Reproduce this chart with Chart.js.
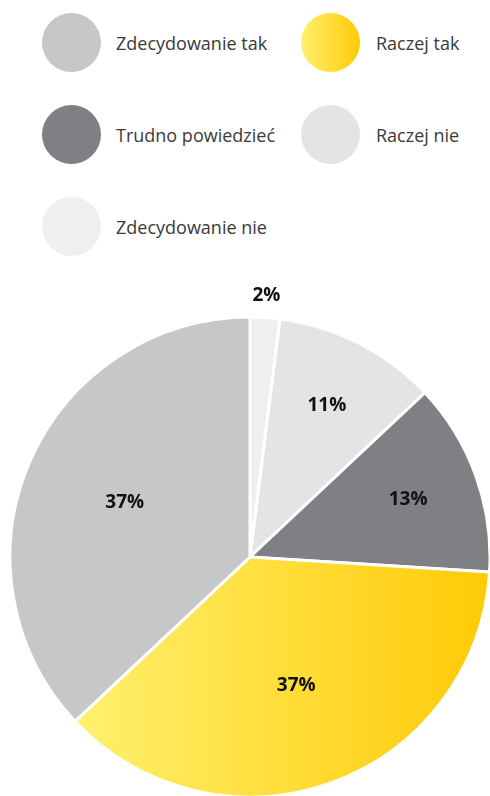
<!DOCTYPE html>
<html lang="pl">
<head>
<meta charset="UTF-8">
<title>Struktura odpowiedzi</title>
<script src="https://cdn.jsdelivr.net/npm/chart.js"></script>
<style>
  body { margin: 0; background: #fff; font-family: "Open Sans", sans-serif; }
  #wrap { position: relative; width: 490px; height: 796px; overflow: hidden; }
  .item { position: absolute; display: flex; align-items: center; }
  .dot { width: 59px; height: 59px; border-radius: 50%; flex: none; }
  .txt { margin-left: 15px; font-size: 18px; color: #3a3a3a; white-space: nowrap; }
  #pie { position: absolute; left: 0; top: 270px; }
</style>
</head>
<body>
<div id="wrap">
  <div id="legend"></div>
  <canvas id="pie" width="490" height="526"></canvas>
</div>

<script>
// kolejność zgodnie z ruchem wskazówek zegara, od godziny 12
var labels = ['Zdecydowanie nie', 'Raczej nie', 'Trudno powiedzieć', 'Raczej tak', 'Zdecydowanie tak'];
var values = [2, 11, 13, 37, 37];
var colors = ['#eeefef', '#e3e4e6', '#7f8084', 'gradient', '#c6c7c9'];
// kolejność pozycji w legendzie (indeksy w labels)
var legendOrder = [4, 3, 2, 1, 0];

var yellowFrom = '#fff170';
var yellowTo = '#ffca05';
var pieRadius = 240;

// legenda w dwóch kolumnach
var legend = document.getElementById('legend');
legendOrder.forEach(function (idx, i) {
    var col = i % 2, row = Math.floor(i / 2);
    var el = document.createElement('div');
    el.className = 'item';
    el.style.left = (col ? 301 : 42) + 'px';
    el.style.top = (13 + row * 92) + 'px';
    var dot = document.createElement('div');
    dot.className = 'dot';
    dot.style.background = colors[idx] === 'gradient'
        ? 'linear-gradient(to right, ' + yellowFrom + ', ' + yellowTo + ')'
        : colors[idx];
    var txt = document.createElement('div');
    txt.className = 'txt';
    txt.textContent = labels[idx];
    if (col) txt.style.marginLeft = '16px';
    el.appendChild(dot);
    el.appendChild(txt);
    legend.appendChild(el);
});

// żółty wycinek z poziomym gradientem
function sliceColor(ctx) {
    var c = colors[ctx.dataIndex];
    if (c !== 'gradient') return c;
    var area = ctx.chart.chartArea;
    if (!area) return yellowTo;
    var cx = (area.left + area.right) / 2;
    var g = ctx.chart.ctx.createLinearGradient(cx - pieRadius * 0.75, 0, cx + pieRadius, 0);
    g.addColorStop(0, yellowFrom);
    g.addColorStop(1, yellowTo);
    return g;
}

// etykiety procentowe w okolicy środka ciężkości wycinka
var percentLabels = {
    id: 'percentLabels',
    afterDatasetsDraw: function (chart) {
        var ctx = chart.ctx;
        var meta = chart.getDatasetMeta(0);
        ctx.save();
        ctx.font = 'bold 19px "Open Sans", sans-serif';
        ctx.fillStyle = '#111';
        ctx.textAlign = 'center';
        ctx.textBaseline = 'middle';
        meta.data.forEach(function (arc, i) {
            var p = arc.getProps(['x', 'y', 'startAngle', 'endAngle', 'outerRadius'], true);
            var a = p.endAngle - p.startAngle;
            var mid = (p.startAngle + p.endAngle) / 2;
            var d = values[i] < 5
                ? p.outerRadius * 1.09
                : p.outerRadius * 1.08 * 4 * Math.sin(a / 2) / (3 * a);
            ctx.fillText(values[i] + '%', p.x + Math.cos(mid) * d, p.y + Math.sin(mid) * d);
        });
        ctx.restore();
    }
};

new Chart(document.getElementById('pie'), {
    type: 'pie',
    data: {
        labels: labels,
        datasets: [{
            data: values,
            backgroundColor: sliceColor,
            borderColor: '#ffffff',
            borderWidth: 3
        }]
    },
    options: {
        responsive: false,
        animation: false,
        radius: pieRadius,
        layout: { padding: { top: 48, left: 10, right: 0, bottom: 0 } },
        plugins: {
            legend: { display: false },
            tooltip: { enabled: false }
        }
    },
    plugins: [percentLabels]
});
</script>
</body>
</html>
